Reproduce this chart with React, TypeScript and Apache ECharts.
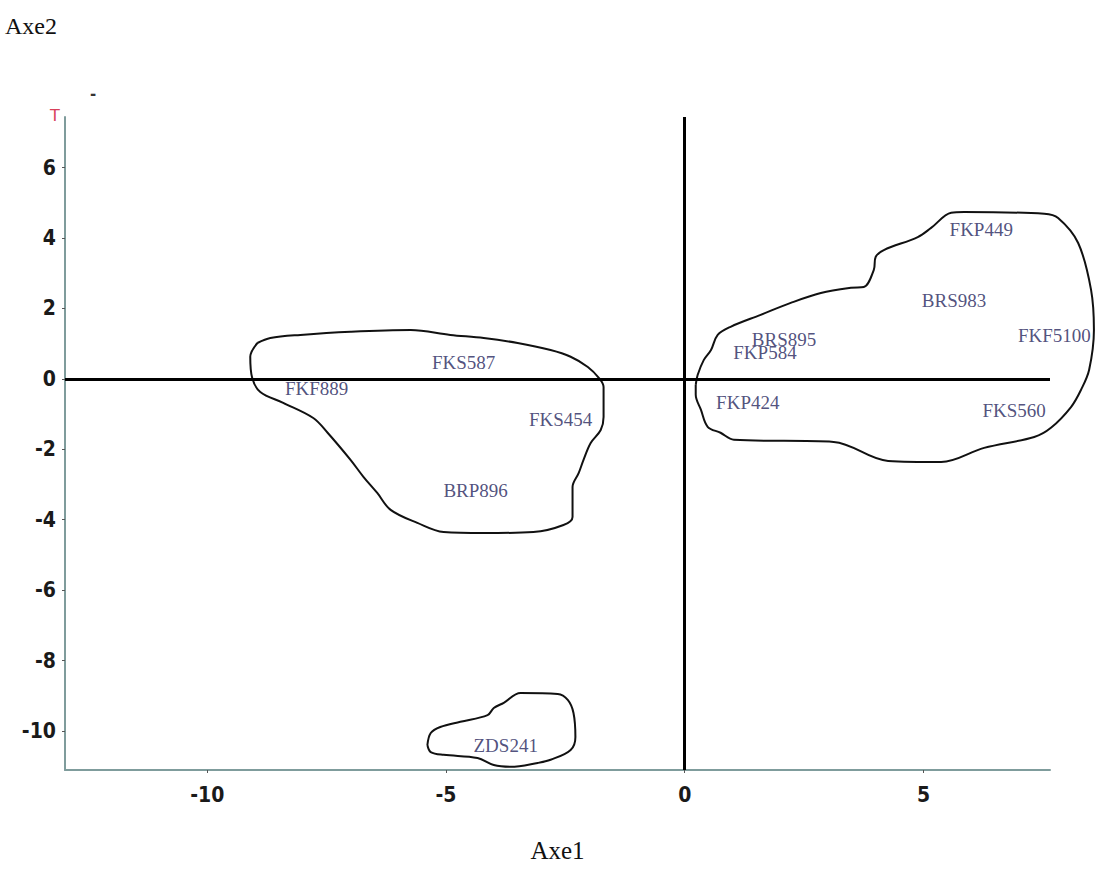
import React, { useEffect, useRef } from "react";
import * as echarts from "echarts";

// Labeled individuals (Axe1, Axe2)
const names = ["FKP449", "BRS983", "FKF5100", "BRS895", "FKP584", "FKP424", "FKS560", "FKS587", "FKF889", "FKS454", "BRP896", "ZDS241"];
const axe1 = [6.21, 5.64, 7.74, 2.08, 1.68, 1.32, 6.9, -4.63, -7.71, -2.6, -4.38, -3.75];
const axe2 = [4.23, 2.22, 1.22, 1.11, 0.74, -0.68, -0.91, 0.48, -0.28, -1.14, -3.18, -10.4];

// Group outlines (closed curves)
const hullRightX = [0.23, 0.27, 0.4, 0.55, 0.69, 0.96, 1.59, 2.22, 2.85, 3.48, 3.75, 3.96, 4.0, 4.17, 4.88, 5.16, 5.58, 5.85, 7.53, 7.82, 8.24, 8.51, 8.57, 8.47, 8.3, 8.09, 7.67, 7.32, 6.27, 5.37, 4.26, 3.12, 1.03, 0.75, 0.48, 0.34, 0.23];
const hullRightY = [-0.17, 0.11, 0.54, 0.82, 1.25, 1.48, 1.82, 2.16, 2.44, 2.59, 2.61, 3.1, 3.47, 3.66, 4.03, 4.29, 4.72, 4.74, 4.69, 4.57, 3.86, 2.53, 1.39, 0.26, -0.31, -0.8, -1.39, -1.65, -1.96, -2.36, -2.33, -1.79, -1.73, -1.53, -1.36, -0.88, -0.45];

const hullLeftX = [-8.95, -9.1, -9.06, -8.89, -8.41, -7.78, -7.48, -7.0, -6.73, -6.44, -6.16, -5.6, -5.05, -4.21, -3.17, -2.54, -2.35, -2.35, -2.22, -2.12, -1.97, -1.76, -1.7, -1.7, -1.8, -2.03, -2.39, -2.81, -3.5, -4.21, -4.91, -5.74, -7.0, -8.05, -8.68];
const hullLeftY = [1.02, 0.63, 0.03, -0.37, -0.68, -1.11, -1.53, -2.3, -2.78, -3.24, -3.72, -4.09, -4.35, -4.38, -4.35, -4.15, -3.92, -3.07, -2.67, -2.3, -1.82, -1.45, -1.08, -0.23, 0.03, 0.34, 0.63, 0.82, 1.02, 1.16, 1.25, 1.39, 1.34, 1.25, 1.16];

const hullBottomX = [-5.39, -5.32, -5.12, -4.7, -4.13, -4.0, -3.79, -3.44, -2.66, -2.45, -2.33, -2.29, -2.39, -2.81, -3.08, -3.65, -4.0, -4.34, -5.05, -5.32];
const hullBottomY = [-10.4, -10.06, -9.89, -9.74, -9.55, -9.35, -9.2, -8.92, -8.95, -9.12, -9.49, -10.17, -10.54, -10.82, -10.91, -11.02, -10.97, -10.77, -10.68, -10.6];

const xTicks = [-10, -5, 0, 5];
const yTicks = [-10, -8, -6, -4, -2, 0, 2, 4, 6];

const closed = (xs: number[], ys: number[]) => {
  const pts = xs.map((x, i) => [x, ys[i]]);
  pts.push(pts[0]);
  return pts;
};

const hullSeries = (xs: number[], ys: number[]) => ({
  type: "line",
  xAxisIndex: 1,
  yAxisIndex: 1,
  data: closed(xs, ys),
  smooth: 0.35,
  symbol: "none",
  clip: false,
  silent: true,
  lineStyle: { color: "#111", width: 2 },
  z: 3,
});

const tickFont = "'Liberation Sans Narrow', 'DejaVu Sans Condensed', 'Arial Narrow', sans-serif";
const serif = "'Liberation Serif', 'DejaVu Serif', 'Times New Roman', serif";

// main plot geometry
const X_MIN = -12.98;
const X_MAX = 7.65;
const Y_MIN = -11.11;
const Y_MAX = 7.44;
const G_LEFT = 65;
const G_RIGHT = 45;
const W = 1095;

export default function App() {
  const ref = useRef<HTMLDivElement>(null);
  useEffect(() => {
    if (!ref.current) return;
    const chart = echarts.init(ref.current, undefined, { renderer: "svg" });
    const axisColor = "#7f9c9c";
    // helper overlay axis spanning the full width, same scale as the main one
    const ppu = (W - G_LEFT - G_RIGHT) / (X_MAX - X_MIN);
    const x2min = X_MIN - G_LEFT / ppu;
    const x2max = x2min + W / ppu;
    chart.setOption({
      animation: false,
      backgroundColor: "#ffffff",
      grid: [
        { left: G_LEFT, right: G_RIGHT, top: 117, bottom: 103, containLabel: false },
        { left: 0, right: 0, top: 117, bottom: 103, containLabel: false },
      ],
      xAxis: [
        {
          type: "value",
          gridIndex: 0,
          min: X_MIN,
          max: X_MAX,
          name: "Axe1",
          nameLocation: "middle",
          nameGap: 68,
          nameTextStyle: { fontFamily: serif, fontSize: 25, color: "#111" },
          axisLine: { show: true, onZero: false, lineStyle: { color: axisColor, width: 2 } },
          axisTick: { show: true, length: 3, customValues: xTicks, lineStyle: { color: "#555" } },
          axisLabel: {
            customValues: xTicks,
            margin: 14,
            fontFamily: tickFont,
            fontWeight: "bold",
            fontSize: 21,
            color: "#1a1a1a",
          },
          splitLine: { show: false },
        },
        {
          type: "value",
          gridIndex: 1,
          min: x2min,
          max: x2max,
          show: false,
        },
      ],
      yAxis: [
        {
          type: "value",
          gridIndex: 0,
          min: Y_MIN,
          max: Y_MAX,
          axisLine: { show: true, onZero: false, lineStyle: { color: axisColor, width: 2 } },
          axisTick: { show: true, length: 3, customValues: yTicks, lineStyle: { color: "#555" } },
          axisLabel: {
            customValues: yTicks,
            margin: 9,
            fontFamily: tickFont,
            fontWeight: "bold",
            fontSize: 21,
            color: "#1a1a1a",
          },
          splitLine: { show: false },
        },
        {
          type: "value",
          gridIndex: 1,
          min: Y_MIN,
          max: Y_MAX,
          show: false,
        },
      ],
      graphic: [
        {
          type: "text",
          left: 5,
          top: 14,
          style: { text: "Axe2", fontFamily: serif, fontSize: 24, fill: "#111" },
        },
        {
          type: "text",
          left: 50,
          top: 107,
          style: { text: "T", fontFamily: "'DejaVu Sans', sans-serif", fontSize: 16, fill: "#d8405a" },
        },
        {
          type: "text",
          left: 90,
          top: 86,
          style: { text: "-", fontFamily: "'DejaVu Sans', sans-serif", fontWeight: "bold", fontSize: 15, fill: "#333" },
        },
      ],
      series: [
        {
          type: "scatter",
          xAxisIndex: 0,
          yAxisIndex: 0,
          symbolSize: 0,
          clip: false,
          silent: true,
          z: 5,
          data: names.map((n, i) => ({ name: n, value: [axe1[i], axe2[i]] })),
          label: {
            show: true,
            position: "inside",
            formatter: "{b}",
            fontFamily: serif,
            fontSize: 19,
            color: "#25255c",
          },
          markLine: {
            silent: true,
            symbol: ["none", "none"],
            label: { show: false },
            lineStyle: { color: "#000", width: 3, type: "solid" },
            data: [{ xAxis: 0 }, { yAxis: 0 }],
          },
        },
        hullSeries(hullRightX, hullRightY),
        hullSeries(hullLeftX, hullLeftY),
        hullSeries(hullBottomX, hullBottomY),
      ],
    });
    return () => chart.dispose();
  }, []);
  return (
    <div
      ref={ref}
      style={{ position: "fixed", left: 0, top: 0, width: W, height: 873, background: "#fff" }}
    />
  );
}
